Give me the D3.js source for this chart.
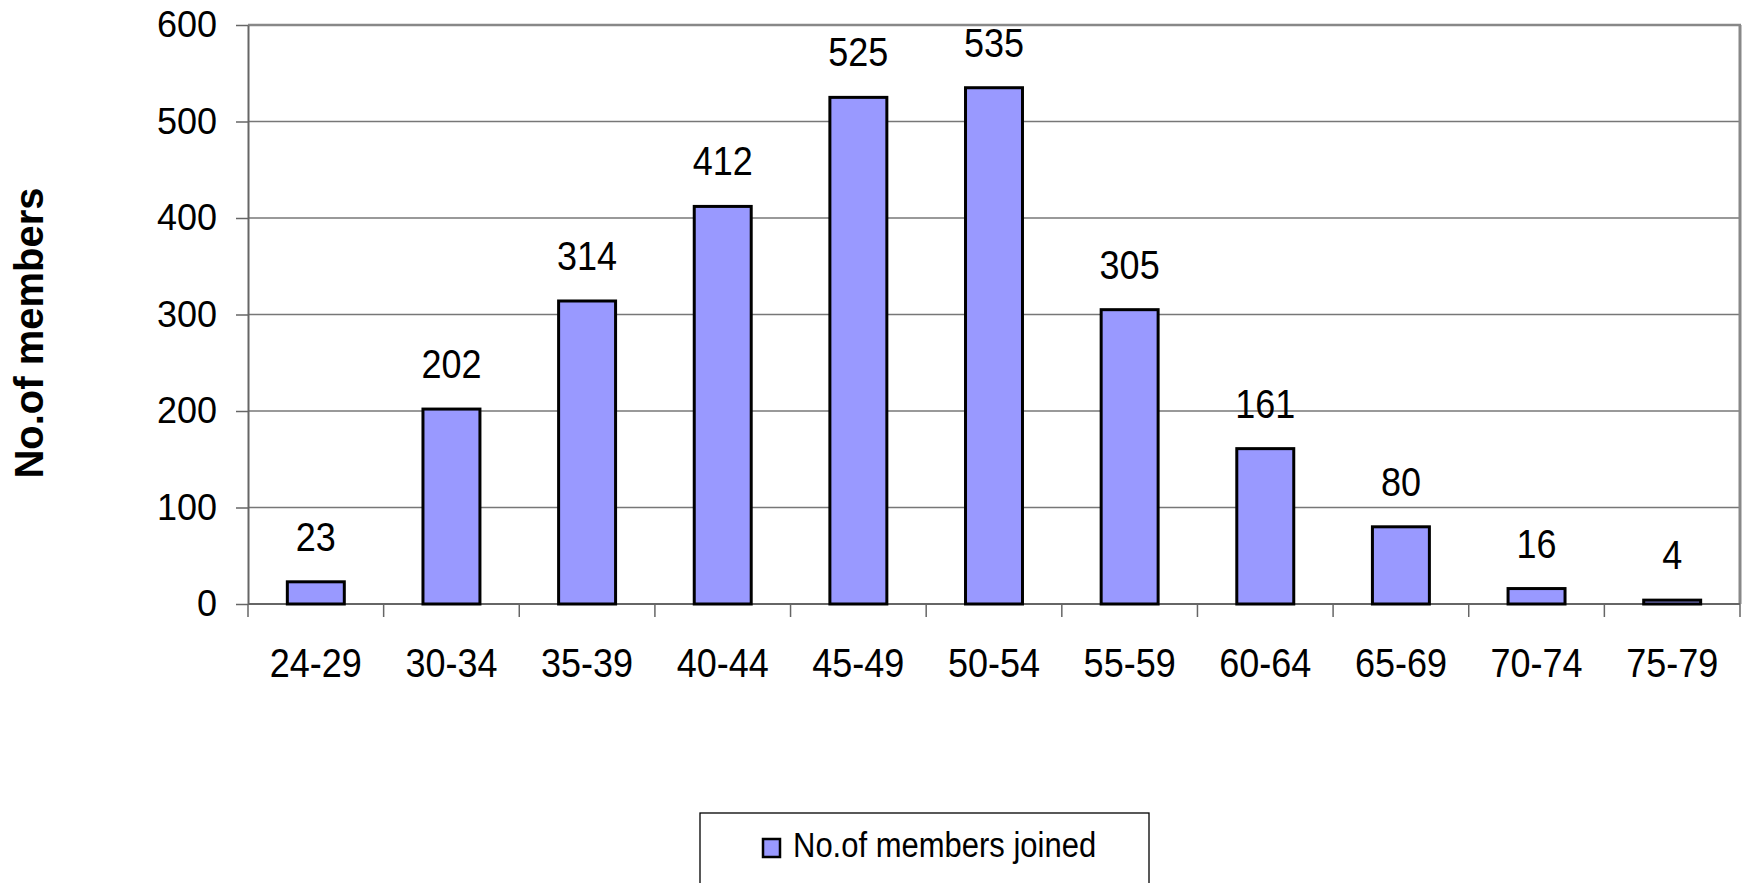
<!DOCTYPE html>
<html>
<head>
<meta charset="utf-8">
<script src="https://cdn.jsdelivr.net/npm/d3@7"></script>
<style>
  html, body { margin: 0; padding: 0; background: #fff; }
  svg { display: block; font-family: "Liberation Sans", Arial, sans-serif; }
</style>
</head>
<body>
<svg id="chart" width="1747" height="883"></svg>
<script>
const categories = ["24-29","30-34","35-39","40-44","45-49","50-54","55-59","60-64","65-69","70-74","75-79"];
const values = [23, 202, 314, 412, 525, 535, 305, 161, 80, 16, 4];
const yTicks = [0, 100, 200, 300, 400, 500, 600];
const seriesName = "No.of members joined";
const yTitle = "No.of members";

(function () {
const svg = d3.select("#chart");
const pLeft = 248, pRight = 1740, pTop = 25, pBottom = 604;
const stretch = 1.15;

const xOuter = d3.scaleBand().domain(categories).range([pLeft, pRight]).padding(0);
const x = d3.scaleBand().domain(categories).range([pLeft, pRight])
  .paddingInner(0.58).paddingOuter(0.29);
const y = d3.scaleLinear().domain([0, 600]).range([pBottom, pTop]);

// gridlines
svg.append("g").selectAll("line").data(yTicks.filter(t => t > 0 && t < 600)).join("line")
  .attr("x1", pLeft).attr("x2", pRight)
  .attr("y1", d => y(d)).attr("y2", d => y(d))
  .attr("stroke", "#777").attr("stroke-width", 1.3);

// frame top & right
svg.append("line").attr("x1", pLeft).attr("x2", pRight + 1).attr("y1", y(600)).attr("y2", y(600))
  .attr("stroke", "#888").attr("stroke-width", 2.5);
svg.append("line").attr("x1", pRight).attr("x2", pRight).attr("y1", y(600)).attr("y2", pBottom)
  .attr("stroke", "#888").attr("stroke-width", 3);

// y axis
const yAxis = d3.axisLeft(y).tickValues(yTicks).tickSize(12).tickPadding(19).tickSizeOuter(0);
const gy = svg.append("g").attr("transform", `translate(${pLeft},0)`).call(yAxis);
gy.select(".domain").attr("stroke", "#666").attr("stroke-width", 2);
gy.selectAll(".tick line").attr("stroke", "#666").attr("stroke-width", 1.5);
gy.selectAll(".tick text").attr("font-size", 36).attr("fill", "#000")
  .attr("font-family", "'Liberation Sans', Arial, sans-serif");

// x axis line and ticks at category boundaries
svg.append("line").attr("x1", pLeft).attr("x2", pRight).attr("y1", pBottom).attr("y2", pBottom)
  .attr("stroke", "#666").attr("stroke-width", 2);
const boundaries = categories.map(c => xOuter(c)).concat([xOuter(categories[categories.length - 1]) + xOuter.step()]);
svg.append("g").selectAll("line").data(boundaries).join("line")
  .attr("x1", d => d).attr("x2", d => d).attr("y1", pBottom).attr("y2", pBottom + 13)
  .attr("stroke", "#666").attr("stroke-width", 1.5);

// x labels
svg.append("g").selectAll("text").data(categories).join("text")
  .attr("transform", d => `translate(${xOuter(d) + xOuter.step() / 2},677) scale(1,${stretch})`)
  .attr("text-anchor", "middle").attr("font-size", 36).attr("fill", "#000")
  .text(d => d);

// bars
const data = categories.map((c, i) => ({c, v: values[i]}));
svg.append("g").selectAll("rect").data(data).join("rect")
  .attr("x", d => x(d.c)).attr("width", x.bandwidth())
  .attr("y", d => y(d.v)).attr("height", d => y(0) - y(d.v))
  .attr("fill", "#9999FF").attr("stroke", "#000").attr("stroke-width", 3);

// value labels
svg.append("g").selectAll("text").data(data).join("text")
  .attr("transform", d => `translate(${x(d.c) + x.bandwidth() / 2},${y(d.v) - 31}) scale(1,${stretch})`)
  .attr("text-anchor", "middle").attr("font-size", 36).attr("fill", "#000")
  .text(d => d.v);

// y title
svg.append("text").attr("transform", "translate(43,333) rotate(-90)")
  .attr("text-anchor", "middle").attr("font-size", 40).attr("font-weight", "bold")
  .attr("fill", "#000").text(yTitle);

// legend
const lg = svg.append("g");
lg.append("rect").attr("x", 700).attr("y", 813).attr("width", 449).attr("height", 80)
  .attr("fill", "#fff").attr("stroke", "#000").attr("stroke-width", 1.3);
lg.append("rect").attr("x", 763).attr("y", 839).attr("width", 17).attr("height", 18)
  .attr("fill", "#9999FF").attr("stroke", "#000").attr("stroke-width", 2.5);
lg.append("text").attr("transform", `translate(793,857) scale(1,${stretch})`)
  .attr("font-size", 31).attr("fill", "#000")
  .text(seriesName);
})();
</script>
</body>
</html>
